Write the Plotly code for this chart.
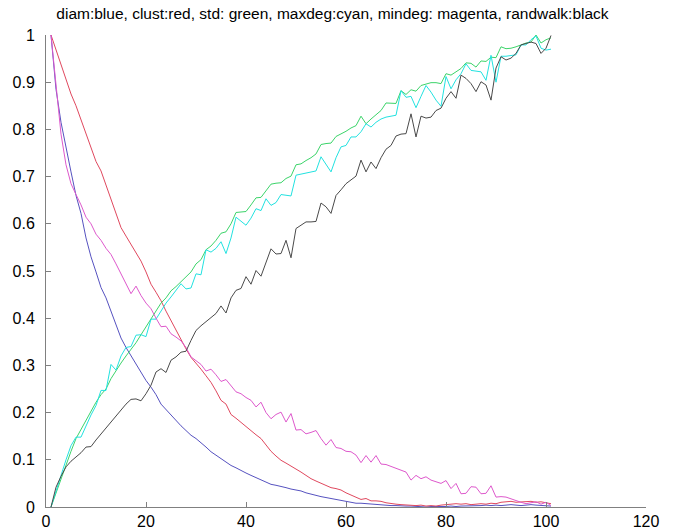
import plotly.graph_objects as go

x_vals = list(range(1, 102))

diam = [1.000, 0.885, 0.815, 0.760, 0.710, 0.660, 0.622, 0.570, 0.530, 0.498,
        0.465, 0.443, 0.415, 0.384, 0.358, 0.338, 0.320, 0.302, 0.285, 0.268,
        0.254, 0.238, 0.218, 0.206, 0.194, 0.183, 0.172, 0.162, 0.152, 0.145,
        0.137, 0.127, 0.117, 0.110, 0.102, 0.095, 0.088, 0.083, 0.077, 0.072,
        0.067, 0.062, 0.058, 0.053, 0.048, 0.046, 0.044, 0.041, 0.038, 0.036,
        0.034, 0.030, 0.027, 0.025, 0.022, 0.020, 0.018, 0.016, 0.014, 0.012,
        0.009, 0.008, 0.008, 0.007, 0.006, 0.005, 0.004, 0.004, 0.003, 0.003,
        0.002, 0.002, 0.002, 0.001, 0.001, 0.000, 0.001, 0.001, 0.000, 0.001,
        0.002, 0.001, 0.002, 0.002, 0.003, 0.002, 0.003, 0.004, 0.003, 0.004,
        0.003, 0.004, 0.005, 0.004, 0.003, 0.004, 0.005, 0.004, 0.003, 0.002,
        0.002]

clust = [1.000, 0.968, 0.940, 0.905, 0.875, 0.850, 0.820, 0.790, 0.762, 0.732,
         0.712, 0.682, 0.650, 0.622, 0.592, 0.574, 0.556, 0.540, 0.521, 0.498,
         0.472, 0.455, 0.437, 0.415, 0.395, 0.374, 0.352, 0.335, 0.317, 0.305,
         0.292, 0.278, 0.264, 0.246, 0.226, 0.218, 0.196, 0.188, 0.179, 0.170,
         0.160, 0.153, 0.145, 0.131, 0.118, 0.108, 0.099, 0.093, 0.087, 0.081,
         0.074, 0.067, 0.060, 0.055, 0.050, 0.045, 0.041, 0.039, 0.036, 0.030,
         0.025, 0.020, 0.016, 0.018, 0.013, 0.013, 0.012, 0.009, 0.007, 0.006,
         0.005, 0.004, 0.004, 0.003, 0.004, 0.002, 0.003, 0.002, 0.004, 0.005,
         0.006, 0.007, 0.006, 0.007, 0.005, 0.006, 0.007, 0.006, 0.008, 0.007,
         0.010, 0.011, 0.012, 0.010, 0.011, 0.012, 0.012, 0.010, 0.011, 0.009,
         0.007]

std = [0.000, 0.030, 0.060, 0.090, 0.118, 0.145, 0.165, 0.185, 0.203, 0.222,
       0.238, 0.250, 0.272, 0.290, 0.305, 0.320, 0.333, 0.348, 0.365, 0.382,
       0.398, 0.414, 0.432, 0.443, 0.458, 0.467, 0.478, 0.488, 0.498, 0.515,
       0.524, 0.545, 0.553, 0.565, 0.580, 0.583, 0.600, 0.624, 0.625, 0.626,
       0.640, 0.655, 0.656, 0.670, 0.684, 0.686, 0.687, 0.696, 0.701, 0.725,
       0.727, 0.734, 0.740, 0.748, 0.768, 0.770, 0.771, 0.785, 0.790, 0.796,
       0.803, 0.808, 0.828, 0.812, 0.822, 0.832, 0.840, 0.856, 0.856, 0.855,
       0.882, 0.874, 0.884, 0.881, 0.893, 0.896, 0.899, 0.899, 0.897, 0.918,
       0.915, 0.922, 0.929, 0.941, 0.940, 0.932, 0.945, 0.944, 0.953, 0.952,
       0.975, 0.971, 0.972, 0.975, 0.979, 0.983, 0.985, 1.000, 0.983, 0.990,
       0.994]

maxdeg = [0.000, 0.035, 0.070, 0.100, 0.130, 0.148, 0.148, 0.172, 0.195, 0.215,
          0.247, 0.247, 0.302, 0.290, 0.320, 0.338, 0.340, 0.364, 0.365, 0.361,
          0.398, 0.398, 0.415, 0.432, 0.445, 0.460, 0.473, 0.462, 0.464, 0.494,
          0.492, 0.545, 0.540, 0.548, 0.562, 0.537, 0.570, 0.614, 0.605, 0.597,
          0.612, 0.632, 0.628, 0.653, 0.639, 0.645, 0.662, 0.660, 0.659, 0.703,
          0.705, 0.708, 0.710, 0.712, 0.742, 0.726, 0.710, 0.740, 0.763, 0.766,
          0.784, 0.784, 0.795, 0.812, 0.805, 0.815, 0.822, 0.826, 0.828, 0.830,
          0.882, 0.868, 0.870, 0.846, 0.870, 0.893, 0.879, 0.862, 0.849, 0.912,
          0.886, 0.905, 0.918, 0.939, 0.925, 0.924, 0.922, 0.904, 0.957, 0.900,
          0.955, 0.955, 0.956, 0.958, 0.979, 0.979, 0.990, 0.998, 0.972, 0.968,
          0.970]

mindeg = [1.000, 0.900, 0.790, 0.725, 0.685, 0.662, 0.640, 0.614, 0.600, 0.578,
          0.565, 0.548, 0.535, 0.515, 0.494, 0.472, 0.452, 0.468, 0.448, 0.432,
          0.420, 0.400, 0.382, 0.383, 0.367, 0.360, 0.352, 0.338, 0.318, 0.310,
          0.302, 0.288, 0.292, 0.280, 0.266, 0.270, 0.256, 0.244, 0.240, 0.232,
          0.226, 0.212, 0.222, 0.200, 0.187, 0.196, 0.201, 0.180, 0.198, 0.163,
          0.164, 0.155, 0.158, 0.162, 0.145, 0.131, 0.143, 0.126, 0.124, 0.118,
          0.117, 0.110, 0.094, 0.109, 0.095, 0.109, 0.091, 0.090, 0.086, 0.082,
          0.078, 0.074, 0.057, 0.067, 0.060, 0.064, 0.057, 0.053, 0.050, 0.056,
          0.039, 0.050, 0.028, 0.029, 0.043, 0.042, 0.028, 0.029, 0.045, 0.021,
          0.022, 0.021, 0.017, 0.013, 0.010, 0.007, 0.009, 0.011, 0.006, 0.010,
          0.003]

randwalk = [0.000, 0.042, 0.065, 0.085, 0.097, 0.105, 0.115, 0.127, 0.128, 0.142,
            0.155, 0.167, 0.180, 0.192, 0.205, 0.218, 0.228, 0.229, 0.225, 0.240,
            0.258, 0.286, 0.293, 0.285, 0.311, 0.318, 0.328, 0.330, 0.353, 0.374,
            0.384, 0.393, 0.403, 0.410, 0.426, 0.411, 0.443, 0.459, 0.463, 0.488,
            0.472, 0.501, 0.489, 0.516, 0.547, 0.536, 0.537, 0.565, 0.528, 0.590,
            0.597, 0.604, 0.604, 0.605, 0.644, 0.636, 0.622, 0.660, 0.672, 0.685,
            0.693, 0.701, 0.735, 0.710, 0.731, 0.717, 0.740, 0.758, 0.766, 0.786,
            0.790, 0.791, 0.833, 0.784, 0.828, 0.824, 0.826, 0.840, 0.845, 0.866,
            0.880, 0.866, 0.915, 0.908, 0.897, 0.880, 0.901, 0.894, 0.862, 0.930,
            0.954, 0.947, 0.951, 0.961, 0.979, 0.982, 0.985, 0.982, 0.961, 0.972,
            0.999]

x_ticks = [0, 20, 40, 60, 80, 100, 120]
y_ticks = [0, 0.1, 0.2, 0.3, 0.4, 0.5, 0.6, 0.7, 0.8, 0.9, 1]
y_tick_text = ["0", "0.1", "0.2", "0.3", "0.4", "0.5", "0.6", "0.7", "0.8", "0.9", "1"]

series = [
    ("diam", diam, "#5652c0"),
    ("clust", clust, "#e0485e"),
    ("std", std, "#3cd46a"),
    ("maxdeg", maxdeg, "#22e2e0"),
    ("mindeg", mindeg, "#de58cc"),
    ("randwalk", randwalk, "#4a4a4a"),
]

fig = go.Figure()
for name, vals, col in series:
    fig.add_trace(go.Scatter(x=x_vals, y=vals, mode="lines", name=name,
                             line=dict(color=col, width=1)))

axis_common = dict(
    showgrid=False, zeroline=False, showline=True, linecolor="#808080",
    linewidth=1, ticks="inside", ticklen=5, tickcolor="#808080",
    tickfont=dict(family="Liberation Sans, Arial, sans-serif", size=16, color="#000000"),
    automargin=False,
)

fig.update_layout(
    width=673, height=529,
    margin=dict(l=46, r=27, t=35, b=22),
    paper_bgcolor="white", plot_bgcolor="white",
    showlegend=False,
    title=dict(text="diam:blue, clust:red, std: green, maxdeg:cyan, mindeg: magenta, randwalk:black",
               x=0.494, xanchor="center", y=0.974, yanchor="middle",
               font=dict(family="Liberation Sans, Arial, sans-serif", size=15.5, color="#000000")),
)
fig.update_xaxes(range=[0, 120], tickvals=x_ticks, ticktext=[str(t) for t in x_ticks], **axis_common)
fig.update_yaxes(range=[0, 1], tickvals=y_ticks, ticktext=y_tick_text,
                 ticklabelstandoff=7, **axis_common)

fig.write_html("out.html", config={"displayModeBar": False},
               post_script="document.body.style.margin='0';document.body.style.padding='0';")
